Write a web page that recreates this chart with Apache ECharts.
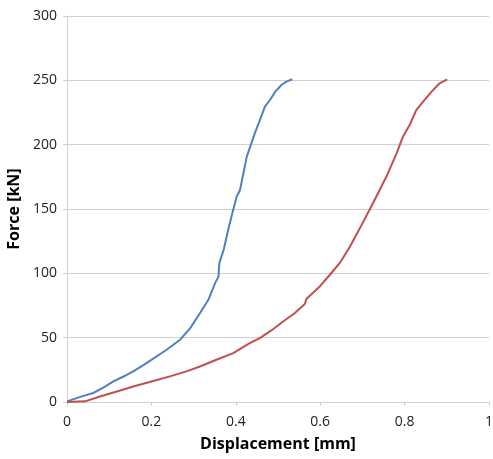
<!DOCTYPE html>
<html>
<head>
<meta charset="utf-8">
<script src="https://cdn.jsdelivr.net/npm/echarts@6/dist/echarts.min.js"></script>
<style>
  html, body { margin: 0; padding: 0; background: #fff; }
  #chart { width: 493px; height: 459px; }
</style>
</head>
<body>
<div id="chart"></div>
<script>
// Force–displacement curves.
const FONT = "'Open Sans', 'Noto Sans', sans-serif";
const GRID_COLOR = '#d0d0d0';

const blueDisp = [0, 0.030, 0.062, 0.085, 0.110, 0.135, 0.157, 0.180, 0.200, 0.236, 0.268, 0.292, 0.315, 0.335, 0.351, 0.359, 0.361, 0.371, 0.382, 0.392, 0.402, 0.410, 0.426, 0.445, 0.457, 0.469, 0.481, 0.493, 0.508, 0.520, 0.534];
const blueForce = [0.5, 3.8, 7, 11, 16, 20, 23.8, 28.5, 32.8, 40.6, 48.4, 57.4, 69, 79.4, 92.4, 97.5, 108, 118, 133.8, 147, 159.6, 164.8, 190.7, 208.8, 219, 229.5, 234.7, 241, 246.4, 249, 250.8];

const redDisp = [0, 0.043, 0.078, 0.118, 0.157, 0.200, 0.244, 0.283, 0.315, 0.354, 0.394, 0.433, 0.457, 0.485, 0.512, 0.540, 0.564, 0.567, 0.599, 0.622, 0.646, 0.670, 0.692, 0.725, 0.757, 0.781, 0.796, 0.812, 0.828, 0.844, 0.864, 0.883, 0.901];
const redForce = [0, 0.5, 4.3, 8.2, 12.1, 16, 19.9, 23.8, 27.6, 32.8, 38, 45.8, 49.7, 55.8, 62.6, 69.2, 76.3, 80, 89.8, 98.5, 107.9, 120.5, 133.8, 154.5, 175.2, 193.3, 206.2, 215.3, 227, 233.4, 241.2, 247.7, 250.8];

const pairs = (xs, ys) => xs.map((x, i) => [x, ys[i]]);

const chart = echarts.init(document.getElementById('chart'));
chart.setOption({
  animation: false,
  textStyle: { fontFamily: FONT },
  grid: { left: 67, right: 4, top: 16, bottom: 57, outerBoundsMode: 'none', containLabel: false },
  xAxis: {
    type: 'value', min: 0, max: 1, interval: 0.2,
    name: 'Displacement [mm]', nameLocation: 'middle', nameGap: 34,
    nameTextStyle: { fontSize: 16, fontWeight: 'bold', color: '#000', fontFamily: FONT },
    axisLine: { show: true, lineStyle: { color: GRID_COLOR } },
    axisTick: { show: true, length: 4, lineStyle: { color: GRID_COLOR } },
    axisLabel: { fontSize: 14, color: '#222', margin: 13, fontFamily: FONT },
    splitLine: { show: false },
  },
  yAxis: {
    type: 'value', min: 0, max: 300, interval: 50,
    name: 'Force [kN]', nameLocation: 'middle', nameGap: 39,
    nameTextStyle: { fontSize: 16, fontWeight: 'bold', color: '#000', fontFamily: FONT },
    axisLine: { show: true, lineStyle: { color: GRID_COLOR } },
    axisTick: { show: true, length: 4, lineStyle: { color: GRID_COLOR } },
    axisLabel: { fontSize: 14, color: '#222', margin: 10, fontFamily: FONT },
    splitLine: { show: true, lineStyle: { color: GRID_COLOR } },
  },
  series: [
    {
      type: 'line', data: pairs(blueDisp, blueForce), showSymbol: false,
      lineStyle: { width: 2, color: '#4F81BD' }, itemStyle: { color: '#4F81BD' },
    },
    {
      type: 'line', data: pairs(redDisp, redForce), showSymbol: false,
      lineStyle: { width: 2, color: '#C0504D' }, itemStyle: { color: '#C0504D' },
    },
  ],
});
</script>
</body>
</html>
